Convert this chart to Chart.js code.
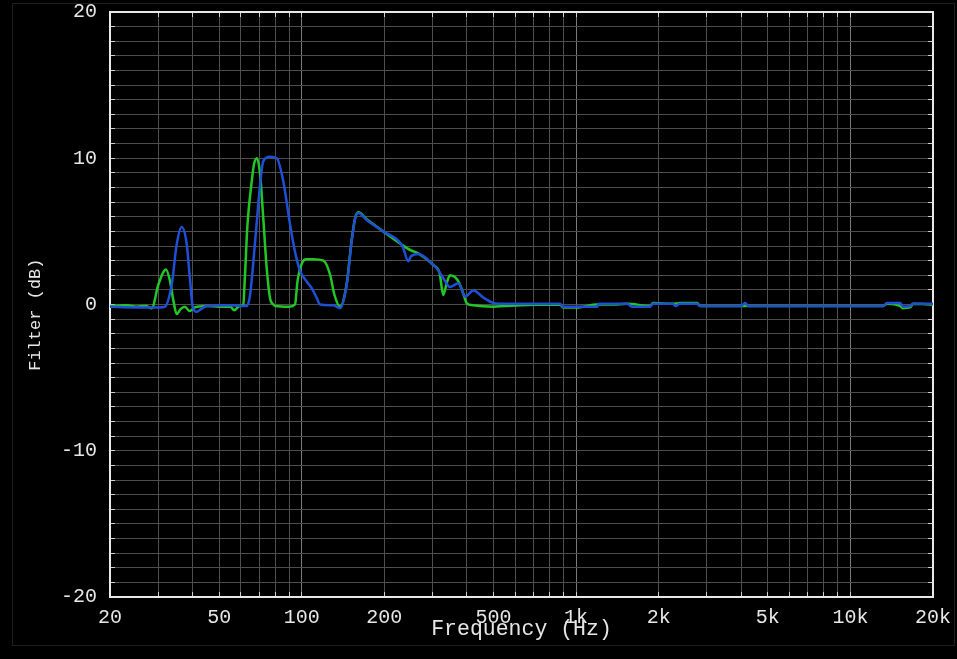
<!DOCTYPE html>
<html lang="en">
<head>
<meta charset="UTF-8">
<title>Filter response</title>
<script src="https://cdn.jsdelivr.net/npm/chart.js"></script>
<style>
    html, body { margin: 0; padding: 0; background: #000; }
    #wrap { position: relative; width: 957px; height: 659px; }
    #frame { position: absolute; left: 12px; top: 3px; width: 941px; height: 641px; border: 1px solid #1e1e1e; pointer-events: none; }
</style>
</head>
<body>
<div id="wrap">
    <canvas id="myChart" width="957" height="659"></canvas>
    <div id="frame"></div>
</div>
<script>
// blue curve
const freqBlue = [20, 25, 30, 31.7, 33.6, 35, 36.5, 38.1, 39, 40.1, 41.4, 43, 45, 55, 60,
    63, 64.8, 67.6, 70.5, 72.4, 76.6, 81.1, 85.7, 90.6, 94.5, 98.6, 104, 108.8, 113.4, 116.6,
    130, 138, 145.8, 152, 156.5, 160.8, 172, 198, 231, 235, 244.6, 250, 266, 302, 310,
    328, 347, 372, 394, 422, 461, 499, 520, 874, 897, 1008, 1193, 1210, 1534, 1600,
    1861, 1908, 2256, 2300, 2394, 2761, 2832, 4000, 4130, 4250, 13154, 13600, 15172, 15560, 16500,
    16920, 20000];
const dbBlue = [-0.15, -0.2, -0.2, -0.15, 1.4, 4.1, 5.3, 4.1, 2.05, -0.2, -0.5, -0.3, -0.1, -0.05, -0.1,
    -0.1, 0.65, 4.3, 8.2, 9.8, 10.1, 10.0, 8.4, 5.5, 3.6, 2.3, 1.6, 1.1, 0.45, 0,
    -0.05, -0.25, 1.35, 4.3, 5.9, 6.25, 5.8, 5.0, 4.1, 3.8, 2.95, 3.3, 3.45, 2.7, 2.5,
    1.8, 1.2, 1.45, 0.55, 0.95, 0.45, 0.1, 0.05, 0.05, -0.15, -0.15, -0.15, 0.05, 0.05, -0.15,
    -0.15, 0.05, 0.05, -0.1, 0.05, 0.05, -0.1, -0.1, 0.1, -0.1, -0.1, 0.1, 0.1, -0.15, -0.1,
    0.05, 0.05];

// green curve
const freqGreen = [20, 23, 25, 27, 28.4, 30, 32, 33.1, 34.1, 35, 36.2, 37.5, 39, 40.8, 45,
    50, 55, 56.7, 59.4, 61.2, 62.1, 63.4, 65.7, 67, 68.6, 70.5, 72.4, 74.5, 76.6, 78.8,
    80, 90, 94.5, 96.5, 100.3, 104, 110, 120, 126.8, 131.6, 138, 145.8, 152, 156.5, 160.8,
    172, 198, 231, 250, 266, 302, 318, 328, 338, 347, 372, 388, 399, 420, 500,
    550, 874, 897, 1008, 1193, 1364, 1534, 1861, 1908, 2256, 2394, 2761, 2832, 13154, 13600,
    15172, 15560, 16500, 16920, 20000];
const dbGreen = [-0.1, -0.05, -0.15, -0.1, -0.25, 1.35, 2.4, 1.6, 0.2, -0.65, -0.3, -0.15, -0.45, -0.2, -0.1,
    -0.15, -0.15, -0.4, -0.1, 0, 2.0, 5.45, 8.4, 9.6, 10.0, 8.9, 5.9, 2.5, 0.45, 0,
    -0.1, -0.15, 0, 1.6, 2.85, 3.1, 3.1, 3.0, 2.05, 0.65, -0.15, 1.4, 4.4, 5.9, 6.3,
    5.85, 5.0, 4.1, 3.7, 3.5, 2.7, 2.15, 0.65, 1.5, 2.0, 1.6, 0.75, 0.1, -0.05, -0.15,
    -0.1, 0, -0.2, -0.2, 0, 0, 0.05, -0.1, 0.1, 0.05, 0.1, 0.1, -0.1, -0.1, 0.05,
    -0.1, -0.25, -0.2, 0.05, 0];

// axes
const xGridValues = [20, 30, 40, 50, 60, 70, 80, 90, 100, 200, 300, 400, 500, 600, 700, 800, 900,
    1000, 2000, 3000, 4000, 5000, 6000, 7000, 8000, 9000, 10000, 20000];
const xLabelValues = [20, 50, 100, 200, 500, 1000, 2000, 5000, 10000, 20000];
const xTickLabels = ['20', '50', '100', '200', '500', '1k', '2k', '5k', '10k', '20k'];
const yLabelValues = [-20, -10, 0, 10, 20];
const yTickLabels = ['-20', '-10', '0', '10', '20'];

let yGridValues = [];
for (let v = -20; v <= 20; v++) yGridValues.push(v);

const fontFamily = '"Liberation Mono", "DejaVu Sans Mono", monospace';
const textColor = '#e6e6e6';
const gridColor = '#4e4e4e';
const decadeColor = '#7a7a7a';

function toPoints(fs, ds) {
    return fs.map(function (f, i) { return { x: f, y: ds[i] }; });
}

function xGridColor(ctx) {
    const v = ctx.tick ? ctx.tick.value : 0;
    return (v === 100 || v === 1000 || v === 10000) ? decadeColor : gridColor;
}

// fixa o tamanho das escalas e zera o padding extra dos rótulos
function fixSize(w, h) {
    return function (s) {
        if (w !== null) s.width = w;
        if (h !== null) s.height = h;
        s.paddingTop = 0; s.paddingBottom = 0; s.paddingLeft = 0; s.paddingRight = 0;
    };
}

function gridTicks(values) {
    return function (s) { s.ticks = values.map(function (v) { return { value: v }; }); };
}

const config = {
    type: 'line',
    data: {
        datasets: [{
            label: 'blue',
            data: toPoints(freqBlue, dbBlue),
            borderColor: '#1f4fd6',
            borderWidth: 2.5,
            pointRadius: 0,
            cubicInterpolationMode: 'monotone',
            order: 1
        }, {
            label: 'green',
            data: toPoints(freqGreen, dbGreen),
            borderColor: '#22c626',
            borderWidth: 2.5,
            pointRadius: 0,
            cubicInterpolationMode: 'monotone',
            order: 2
        }]
    },
    options: {
        responsive: false,
        animation: false,
        devicePixelRatio: 1,
        layout: { padding: { left: 0, right: 24, top: 12, bottom: 0 } },
        plugins: { legend: { display: false }, tooltip: { enabled: false } },
        scales: {
            x: {
                type: 'logarithmic',
                position: 'bottom',
                min: 20,
                max: 20000,
                afterBuildTicks: gridTicks(xGridValues),
                afterFit: fixSize(null, 62),
                grid: { color: xGridColor, lineWidth: 1, tickLength: -5, tickColor: '#d0d0d0' },
                border: { color: '#e8e8e8', width: 2 },
                ticks: {
                    autoSkip: false, maxRotation: 0, minRotation: 0, padding: 14,
                    color: textColor, font: { family: fontFamily, size: 20 },
                    callback: function (v) {
                        const i = xLabelValues.indexOf(v);
                        return i >= 0 ? xTickLabels[i] : '';
                    }
                },
                title: {
                    display: true, text: 'Frequency (Hz)', color: textColor,
                    font: { family: fontFamily, size: 21.5 }, padding: { top: 0, bottom: 17 }
                }
            },
            xTop: {
                type: 'logarithmic',
                position: 'top',
                min: 20,
                max: 20000,
                afterBuildTicks: gridTicks(xGridValues),
                afterFit: fixSize(null, 0),
                grid: { drawOnChartArea: false, tickLength: -5, tickColor: '#d0d0d0' },
                border: { color: '#e8e8e8', width: 2 },
                ticks: { display: false, autoSkip: false }
            },
            y: {
                type: 'linear',
                position: 'left',
                min: -20,
                max: 20,
                afterBuildTicks: gridTicks(yGridValues),
                afterFit: fixSize(110, null),
                grid: { color: gridColor, lineWidth: 1, tickLength: -5, tickColor: '#d0d0d0' },
                border: { color: '#e8e8e8', width: 2 },
                ticks: {
                    autoSkip: false, padding: 18,
                    color: textColor, font: { family: fontFamily, size: 20 },
                    callback: function (v) {
                        const i = yLabelValues.indexOf(v);
                        return i >= 0 ? yTickLabels[i] : '';
                    }
                },
                title: {
                    display: true, text: 'Filter (dB)  ', color: textColor,
                    font: { family: fontFamily, size: 17 }, padding: { top: 25, bottom: 0 }
                }
            },
            yRight: {
                type: 'linear',
                position: 'right',
                min: -20,
                max: 20,
                afterBuildTicks: gridTicks(yGridValues),
                afterFit: fixSize(0, null),
                grid: { drawOnChartArea: false, tickLength: -5, tickColor: '#d0d0d0' },
                border: { color: '#e8e8e8', width: 2 },
                ticks: { display: false, autoSkip: false }
            }
        }
    }
};

let myChart = new Chart(document.getElementById('myChart'), config);
</script>
</body>
</html>
